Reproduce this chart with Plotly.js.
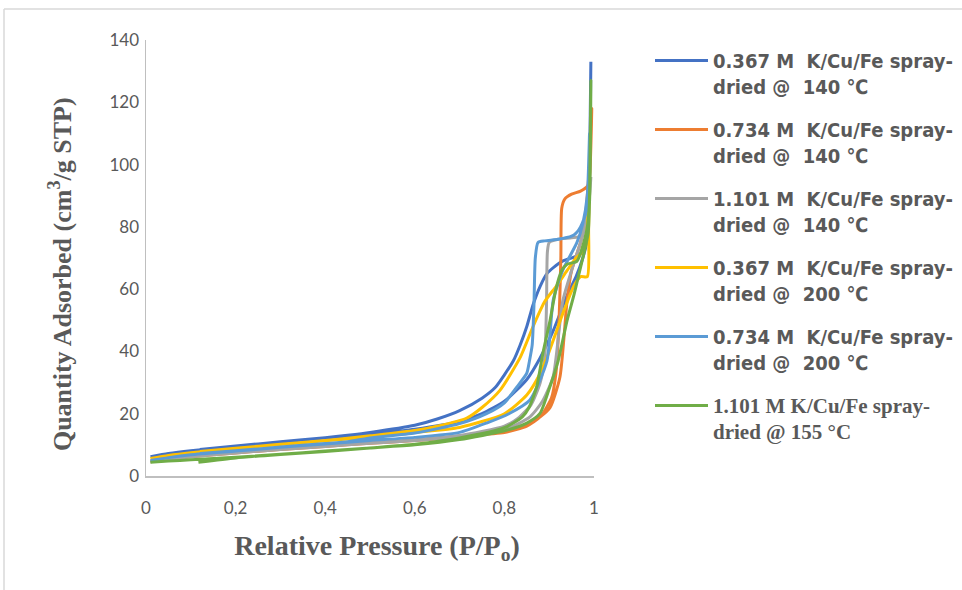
<!DOCTYPE html>
<html>
<head>
<meta charset="utf-8">
<script src="https://cdn.plot.ly/plotly-3.0.1.min.js"></script>
<style>
html,body{margin:0;padding:0;background:#fff;}
#chart{width:962px;height:590px;}
</style>
</head>
<body>
<div id="chart"></div>
<script>
// Series names
const seriesNames = [
  "0.367 M  K/Cu/Fe spray-<br>dried @  140 ℃",
  "0.734 M  K/Cu/Fe spray-<br>dried @  140 ℃",
  "1.101 M  K/Cu/Fe spray-<br>dried @  140 ℃",
  "0.367 M  K/Cu/Fe spray-<br>dried @  200 ℃",
  "0.734 M  K/Cu/Fe spray-<br>dried @  200 ℃",
  "1.101 M K/Cu/Fe spray-<br>dried @ 155 °C"
];
const seriesColors = ["#4472C4","#ED7D31","#A5A5A5","#FFC000","#5B9BD5","#70AD47"];

// 0.367 M @ 140 (adsorption then desorption)
const p367_140 = [0.01,0.05,0.1,0.2,0.3,0.4,0.5,0.6,0.7,0.75,0.8,0.85,0.88,0.91,0.94,0.96,0.975,0.985,0.99,0.993,
                  0.99,0.985,0.975,0.96,0.93,0.91,0.895,0.88,0.864,0.85,0.835,0.82,0.8,0.78,0.75,0.7,0.65,0.6,0.5,0.45,0.4,0.3,0.2,0.12];
const q367_140 = [6.2,7.2,8.1,9.5,10.9,12.2,13.5,15.0,17.5,20,24,31,38,47,58,64,70,76,95,133,
                  100,80,72,70.5,69,67,65,61,55,48,42,37,32.5,28.5,25,21,18.3,16.3,14.0,13.1,12.3,11.0,9.6,8.5];

// 0.734 M @ 140
const p734_140 = [0.01,0.05,0.1,0.2,0.3,0.4,0.5,0.6,0.7,0.8,0.857,0.88,0.902,0.924,0.94,0.95,0.97,0.98,0.985,0.99,0.995,
                  0.99,0.985,0.97,0.95,0.935,0.928,0.926,0.922,0.915,0.905,0.88,0.85,0.8,0.7,0.6,0.5,0.45,0.4,0.3,0.2,0.12];
const q734_140 = [4.6,5.4,6.2,7.4,8.5,9.5,10.5,11.4,12.6,14.5,17,19,22,31.8,56.5,66,75,82,90,100,118,
                  96,93,91.5,90.5,89,86,70,50,33,25,19,16,14,12.8,11.6,10.6,10.1,9.6,8.6,7.5,6.6];

// 1.101 M @ 140
const p1101_140 = [0.01,0.05,0.1,0.2,0.3,0.4,0.5,0.6,0.7,0.8,0.857,0.885,0.909,0.93,0.95,0.97,0.98,0.99,0.993,
                   0.99,0.98,0.97,0.95,0.92,0.9,0.896,0.894,0.89,0.88,0.86,0.83,0.8,0.7,0.6,0.5,0.45,0.4,0.3,0.2,0.12];
const q1101_140 = [4.6,5.4,6.2,7.4,8.5,9.5,10.5,11.4,12.6,14.8,19,24,32,56,66,75,80,90,96,
                   90,82,77,76.5,76,75,72,55,38,30,23,18.5,16,13,11.6,10.6,10.1,9.6,8.6,7.5,6.6];

// 0.367 M @ 200
const p367_200 = [0.01,0.05,0.1,0.2,0.3,0.4,0.5,0.6,0.7,0.8,0.85,0.88,0.9,0.93,0.955,0.97,0.985,0.988,0.99,
                  0.985,0.975,0.96,0.94,0.916,0.89,0.864,0.835,0.79,0.75,0.716,0.65,0.6,0.5,0.45,0.4,0.3,0.2,0.12];
const q367_200 = [5.6,6.6,7.5,8.8,10.1,11.3,12.5,14.0,15.6,20,26,33,40,52,61,64,64,80,97,
                  80,72,70,66,61,56,48,38,27.5,22,18.6,16,14.6,12.9,12.1,11.4,10.2,8.9,7.9];

// 0.734 M @ 200
const p734_200 = [0.01,0.05,0.1,0.2,0.3,0.4,0.5,0.6,0.7,0.76,0.81,0.857,0.895,0.909,0.93,0.962,0.975,0.985,0.99,
                  0.985,0.97,0.96,0.95,0.92,0.89,0.875,0.869,0.866,0.862,0.856,0.85,0.828,0.8,0.76,0.7,0.6,0.5,0.45,0.4,0.3,0.2,0.12];
const q734_200 = [5.0,5.9,6.8,8.0,9.2,10.3,11.4,12.4,14,17,20,24.4,37,56.5,66,75,81,90,110,
                  86,80,78,77,76,75.5,75,70,55,42,37,33,28.6,23.5,20,16.8,13.8,12.2,11.0,10.4,9.3,8.1,7.2];

// 1.101 M @ 155
const p1101_155 = [0.01,0.05,0.1,0.2,0.3,0.4,0.5,0.6,0.7,0.8,0.85,0.879,0.9,0.92,0.94,0.955,0.965,0.975,0.987,0.99,0.993,
                   0.99,0.984,0.962,0.94,0.928,0.915,0.902,0.886,0.872,0.855,0.84,0.8,0.7,0.6,0.5,0.4,0.3,0.2,0.117];
const q1101_155 = [4.4,4.8,5.2,6.0,7.0,8.0,9.0,10.0,11.7,14.5,17,20,28,37,50,58,64,70,78,90,127,
                   88,79,69,68,66,60,50,39.5,28.6,22,19,15.5,12.2,10.2,9.0,7.9,6.9,5.8,4.4];

const xs = [p367_140,p734_140,p1101_140,p367_200,p734_200,p1101_155];
const ys = [q367_140,q734_140,q1101_140,q367_200,q734_200,q1101_155];

const xTickVals = [0,0.2,0.4,0.6,0.8,1];
const xTickText = ["0","0,2","0,4","0,6","0,8","1"];
const yTickVals = [0,20,40,60,80,100,120,140];

const traces = xs.map((x,i)=>({
  x: x, y: ys[i], type:'scatter', mode:'lines',
  name: i===5 ? '<span style="font-family:\'Liberation Serif\',serif;font-weight:bold;font-size:21px;">'+seriesNames[i]+'</span>' : seriesNames[i],
  legendgroup: 'g'+i,
  line:{color:seriesColors[i], width:3, shape:'spline', smoothing:0.6}
}));

const L=146, R=594, T=40, B=476, W=962, H=590;
const px = v => (v-L)/(R-L);
const py = v => (B-v)/(B-T);

const layout = {
  width:W, height:H,
  margin:{l:L, r:W-R, t:T, b:H-B, pad:0, autoexpand:false},
  paper_bgcolor:'#fff', plot_bgcolor:'#fff',
  showlegend:true,
  font:{family:'Lato, sans-serif', color:'#595959'},
  xaxis:{
    range:[0,1], tickvals:xTickVals, ticktext:xTickText,
    showgrid:false, zeroline:false, showline:true, linecolor:'#BFBFBF', linewidth:1.5,
    ticks:'outside', ticklen:16, tickcolor:'rgba(0,0,0,0)',
    tickfont:{family:'Lato, sans-serif', size:17, color:'#595959'},
    title:{text:'&nbsp;&nbsp;Relative Pressure (P/P<sub>o</sub>)', standoff:18,
      font:{family:'Liberation Serif, serif', size:28, color:'#595959', weight:'bold'}}
  },
  yaxis:{
    range:[0,140], tickvals:yTickVals,
    showgrid:false, zeroline:false, showline:true, linecolor:'#BFBFBF', linewidth:1.5,
    ticks:'outside', ticklen:2, tickcolor:'rgba(0,0,0,0)',
    tickfont:{family:'Lato, sans-serif', size:17, color:'#595959'},
    title:{text:'Quantity Adsorbed (cm<sup>3</sup>/g STP)&nbsp;&nbsp;&nbsp;&nbsp;&nbsp;', standoff:30,
      font:{family:'Liberation Serif, serif', size:26, color:'#595959', weight:'bold'}}
  },
  legend:{
    x:px(650), y:py(41), xanchor:'left', yanchor:'top', valign:'top',
    font:{family:'DejaVu Sans Condensed, DejaVu Sans, sans-serif', size:20, color:'#595959', weight:'bold'},
    tracegroupgap:14, bgcolor:'rgba(0,0,0,0)', itemwidth:53
  },
  shapes:[
    {type:'line', xref:'paper', yref:'paper', x0:px(4), x1:px(962), y0:py(9), y1:py(9), line:{color:'#D9D9D9', width:1.5}},
    {type:'line', xref:'paper', yref:'paper', x0:px(4), x1:px(4), y0:py(9), y1:py(590), line:{color:'#D9D9D9', width:1.5}}
  ]
};

Plotly.newPlot('chart', traces, layout, {displayModeBar:false, staticPlot:true});
</script>
</body>
</html>
